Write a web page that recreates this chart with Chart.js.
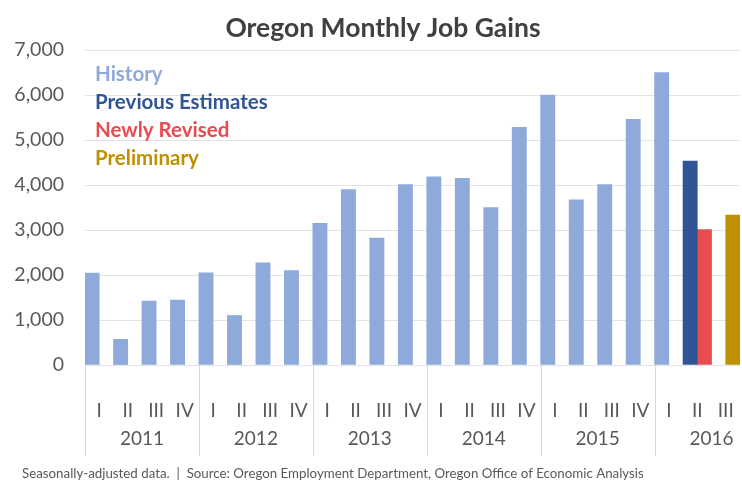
<!DOCTYPE html>
<html>
<head>
<meta charset="utf-8">
<title>Oregon Monthly Job Gains</title>
<script src="https://cdn.jsdelivr.net/npm/chart.js@4.4.1/dist/chart.umd.min.js"></script>
<style>
  html, body { margin: 0; padding: 0; background: #ffffff; }
  #wrap { width: 742px; height: 485px; position: relative; }
</style>
</head>
<body>
<div id="wrap"><canvas id="jobs" width="742" height="485"></canvas></div>
<script>
// Quarterly categories, 2011 Q1 through 2016 Q3
const quarterLabels = ['I','II','III','IV', 'I','II','III','IV', 'I','II','III','IV',
                       'I','II','III','IV', 'I','II','III','IV', 'I','II','III'];
const yearLabels    = ['2011','2011','2011','2011', '2012','2012','2012','2012',
                       '2013','2013','2013','2013', '2014','2014','2014','2014',
                       '2015','2015','2015','2015', '2016','2016','2016'];

// Average monthly job gains per quarter
const historyValues = [2040, 570, 1420, 1440,
                       2050, 1100, 2270, 2100,
                       3150, 3900, 2820, 4010,
                       4180, 4150, 3500, 5280,
                       6000, 3670, 4010, 5460,
                       6500, null, null];
const previousEstimates = [null,null,null,null, null,null,null,null, null,null,null,null,
                           null,null,null,null, null,null,null,null, null, 4530, null];
const newlyRevised      = [null,null,null,null, null,null,null,null, null,null,null,null,
                           null,null,null,null, null,null,null,null, null, 3010, null];
const preliminary       = [null,null,null,null, null,null,null,null, null,null,null,null,
                           null,null,null,null, null,null,null,null, null, null, 3330];

const yTickValues = [0, 1000, 2000, 3000, 4000, 5000, 6000, 7000];

const FONT = 'Lato, "Open Sans", sans-serif';
const GREY = '#595959';

// Title, text legend, year groups and source note
const decor = {
  id: 'decor',
  afterDraw(chart) {
    const { ctx, chartArea, scales: { x } } = chart;
    const step = x.getPixelForValue(1) - x.getPixelForValue(0);
    ctx.save();

    // Year group separators and year labels
    ctx.strokeStyle = '#d9d9d9';
    ctx.lineWidth = 1;
    ctx.fillStyle = GREY;
    ctx.font = '19px ' + FONT;
    ctx.textAlign = 'center';
    ctx.textBaseline = 'middle';
    let start = 0;
    for (let i = 1; i <= yearLabels.length; i++) {
      if (i === yearLabels.length || yearLabels[i] !== yearLabels[start]) {
        const left = Math.round(x.getPixelForValue(start) - step / 2) + 0.5;
        ctx.beginPath();
        ctx.moveTo(left, chartArea.bottom);
        ctx.lineTo(left, chartArea.bottom + 91);
        ctx.stroke();
        const cx = (x.getPixelForValue(start + 1) + x.getPixelForValue(start + 2)) / 2;
        ctx.fillText(yearLabels[start], cx, chartArea.bottom + 74);
        start = i;
      }
    }

    // Title
    ctx.fillStyle = '#404040';
    ctx.font = 'bold 26.5px ' + FONT;
    ctx.textAlign = 'center';
    ctx.textBaseline = 'alphabetic';
    ctx.fillText('Oregon Monthly Job Gains', 383, 37);

    // Text legend, coloured like the series
    ctx.textAlign = 'left';
    ctx.textBaseline = 'middle';
    ctx.font = 'bold 20.5px ' + FONT;
    chart.data.datasets.forEach((ds, i) => {
      ctx.fillStyle = ds.backgroundColor;
      ctx.fillText(ds.label, chartArea.left + 10, 74 + i * 28);
    });

    // Source note
    ctx.fillStyle = GREY;
    ctx.font = '13.3px ' + FONT;
    ctx.textBaseline = 'alphabetic';
    ctx.fillText('Seasonally-adjusted data.  |  Source: Oregon Employment Department, Oregon Office of Economic Analysis', 22, 478);
    ctx.restore();
  }
};

new Chart(document.getElementById('jobs'), {
  type: 'bar',
  data: {
    labels: quarterLabels,
    datasets: [
      { label: 'History',            data: historyValues,     backgroundColor: '#8eaadb', stack: 'left' },
      { label: 'Previous Estimates', data: previousEstimates, backgroundColor: '#2f5597', stack: 'left' },
      { label: 'Newly Revised',      data: newlyRevised,      backgroundColor: '#e84b50', stack: 'right' },
      { label: 'Preliminary',        data: preliminary,       backgroundColor: '#bf9000', stack: 'right' }
    ]
  },
  options: {
    responsive: false,
    animation: false,
    layout: { padding: { top: 50, right: 2, bottom: 0, left: 0 } },
    datasets: { bar: { categoryPercentage: 1.0, barPercentage: 1.0 } },
    plugins: { legend: { display: false }, tooltip: { enabled: false }, title: { display: false } },
    scales: {
      x: {
        stacked: true,
        grid: { display: false },
        border: { display: false },
        ticks: { color: GREY, font: { family: FONT, size: 19 }, padding: 26, maxRotation: 0, autoSkip: false },
        afterFit(scale) {
          scale.height = 120;
          scale.paddingLeft = 0;
          scale.paddingRight = 0;
        }
      },
      y: {
        stacked: true,
        min: 0,
        max: 7000,
        afterBuildTicks(scale) { scale.ticks = yTickValues.map(v => ({ value: v })); },
        grid: { color: '#e3e3e3', drawTicks: false },
        border: { display: false },
        ticks: {
          color: GREY,
          font: { family: FONT, size: 19.5 },
          padding: 21,
          callback: v => v.toLocaleString('en-US')
        },
        afterFit(scale) { scale.width = 85; }
      }
    }
  },
  plugins: [decor]
});
</script>
</body>
</html>
